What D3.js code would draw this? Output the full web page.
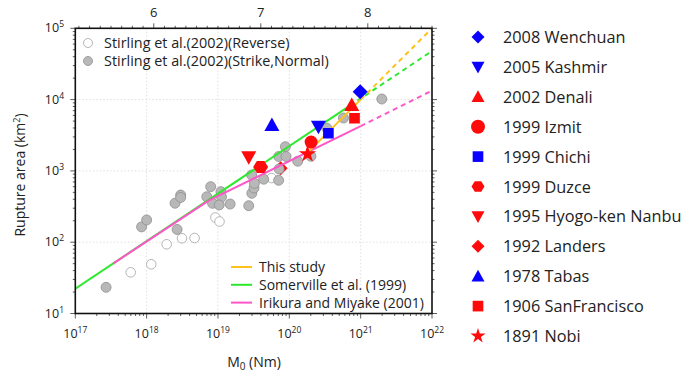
<!DOCTYPE html>
<html><head><meta charset="utf-8">
<script src="https://cdn.jsdelivr.net/npm/d3@7"></script>
<style>
body{margin:0;background:#fff}
text{font-family:"Open Sans",Lato,sans-serif;fill:#222}
</style></head><body>
<svg id="c" width="683" height="378"></svg>
<script>
// ---------- data ----------
const xTickExponents = [17, 18, 19, 20, 21, 22];
const yTickExponents = [1, 2, 3, 4, 5];
const magnitudeTicks = [6, 7, 8];

const reverseM0   = [5.98e17, 1.16e18, 1.91e18, 3.13e18, 4.7e18, 9.2e18, 1.05e19, 5.65e19];
const reverseArea = [37.8, 49, 93.5, 113.5, 114.5, 222, 195, 794];

const strikeM0   = [2.7e17, 8.5e17, 1.0e18, 2.67e18, 2.5e18, 3.0e18, 3.0e18, 6.97e18, 7.9e18, 8.4e18,
                    1.1e19, 1.12e19, 1.04e19, 1.48e19, 2.7e19, 2.96e19, 2.98e19, 3.2e19, 3.24e19, 4.37e19,
                    7.08e19, 7.2e19, 7.1e19, 8.8e19, 9.0e19, 1.31e20, 2.01e20, 3.36e20, 5.74e20, 1.98e21];
const strikeArea = [23.3, 164, 205, 151, 352, 459, 424, 434, 600, 351,
                    511, 430, 333, 343, 325, 877, 485, 575, 670, 765,
                    738, 1064, 1592, 2183, 1592, 1368, 1603, 3963, 5520, 10190];

const eventNames = ["2008 Wenchuan", "2005 Kashmir", "2002 Denali", "1999 Izmit", "1999 Chichi",
                    "1999 Duzce", "1995 Hyogo-ken Nanbu", "1992 Landers", "1978 Tabas",
                    "1906 SanFrancisco", "1891 Nobi"];
const eventM0   = [9.85e20, 2.56e20, 7.5e20, 2.02e20, 3.53e20, 3.96e19, 2.7e19, 7.55e19, 5.7e19, 8.2e20, 1.8e20];
const eventArea = [12900, 4170, 8400, 2540, 3370, 1135, 1553, 1087, 4400, 5470, 1726];

// scaling relations: solid part and dashed extrapolation
const thisStudySolidM0 = [1.82e20, 1.0e21],  thisStudySolidArea = [1820, 10000];
const thisStudyDashM0  = [1.0e21, 1.0e22],   thisStudyDashArea  = [10000, 100000];
const somervilleSolidM0 = [1e17, 7.08e20],   somervilleSolidArea = [22.3, 8220];
const somervilleDashM0  = [7.08e20, 1e22],   somervilleDashArea  = [8220, 48000];
const irikuraSolidM0 = [3.39e17, 7.5e18, 1e21], irikuraSolidArea = [50.2, 385, 4236];
const irikuraDashM0  = [1e21, 1e22],            irikuraDashArea  = [4236, 13400];

const lineLegend = ["This study", "Somerville et al. (1999)", "Irikura and Miyake (2001)"];
const pointLegend = ["Stirling et al.(2002)(Reverse)", "Stirling et al.(2002)(Strike,Normal)"];

// ---------- styles ----------
const C = {yellow:"#ffc21a", green:"#2de82d", pink:"#ff55c8", blue:"#0a00ff", red:"#ff0a0a"};
const eventStyle = {
  "2008 Wenchuan": {shape:"diamond", color:C.blue},
  "2005 Kashmir": {shape:"tridown", color:C.blue},
  "2002 Denali": {shape:"triup", color:C.red},
  "1999 Izmit": {shape:"circle", color:C.red},
  "1999 Chichi": {shape:"square", color:C.blue},
  "1999 Duzce": {shape:"hexagon", color:C.red},
  "1995 Hyogo-ken Nanbu": {shape:"tridown", color:C.red},
  "1992 Landers": {shape:"diamond", color:C.red},
  "1978 Tabas": {shape:"triup", color:C.blue},
  "1906 SanFrancisco": {shape:"square", color:C.red},
  "1891 Nobi": {shape:"star", color:C.red}
};
const lineColors = [C.yellow, C.green, C.pink];

// ---------- layout ----------
const svg = d3.select("#c");
const L = 75.3, R = 432, T = 28.3, B = 313.5;
const x = d3.scaleLog().domain([1e17, 1e22]).range([L, R]);
const y = d3.scaleLog().domain([10, 1e5]).range([B, T]);
const mw = d3.scaleLinear().domain([(17 - 9.1) * 2 / 3, (22 - 9.1) * 2 / 3]).range([L, R]);

function shapePath(shape, s) {
  const h = s / 2;
  switch (shape) {
    case "diamond": return `M0,${-h}L${h},0L0,${h}L${-h},0Z`;
    case "triup": return `M0,${-h}L${h},${h*0.8}L${-h},${h*0.8}Z`;
    case "tridown": return `M0,${h}L${h},${-h*0.8}L${-h},${-h*0.8}Z`;
    case "square": { const q = h * 0.82; return `M${-q},${-q}H${q}V${q}H${-q}Z`; }
    case "circle": return d3.symbol(d3.symbolCircle, Math.PI * h * h)();
    case "hexagon": { const p = d3.range(6).map(i => { const a = i * Math.PI / 3; return [h * Math.cos(a), h * 0.92 * Math.sin(a)]; });
      return "M" + p.map(q => q.join(",")).join("L") + "Z"; }
    case "star": return d3.symbol(d3.symbolStar, s * s * 0.42)();
  }
}

// grid
const gridG = svg.append("g").attr("stroke", "#d8d8d8").attr("stroke-width", 0.8).attr("stroke-dasharray", "1.5,2");
xTickExponents.slice(1, -1).forEach(e => gridG.append("line").attr("x1", x(10 ** e)).attr("x2", x(10 ** e)).attr("y1", T).attr("y2", B));
yTickExponents.slice(1, -1).forEach(e => gridG.append("line").attr("y1", y(10 ** e)).attr("y2", y(10 ** e)).attr("x1", L).attr("x2", R));

// ticks
const tickG = svg.append("g").attr("stroke", "#333").attr("stroke-width", 0.8);
const minorX = [], minorY = [];
for (let e = 17; e < 22; e++) for (let m = 2; m < 10; m++) minorX.push(m * 10 ** e);
for (let e = 1; e < 5; e++) for (let m = 2; m < 10; m++) minorY.push(m * 10 ** e);
xTickExponents.forEach(e => tickG.append("line").attr("x1", x(10 ** e)).attr("x2", x(10 ** e)).attr("y1", B).attr("y2", B + 5));
minorX.forEach(v => tickG.append("line").attr("x1", x(v)).attr("x2", x(v)).attr("y1", B).attr("y2", B + 2.5));
[[L, -1], [R, 1]].forEach(([xx, d]) => {
  yTickExponents.forEach(e => tickG.append("line").attr("y1", y(10 ** e)).attr("y2", y(10 ** e)).attr("x1", xx).attr("x2", xx + d * 5));
  minorY.forEach(v => tickG.append("line").attr("y1", y(v)).attr("y2", y(v)).attr("x1", xx).attr("x2", xx + d * 2.5));
});
const mwMinor = d3.range(53, 87).map(v => v / 10);
mwMinor.forEach(v => tickG.append("line").attr("x1", mw(v)).attr("x2", mw(v)).attr("y1", T).attr("y2", T - (Math.abs(v - Math.round(v)) < 1e-6 ? 5 : 2.5)));

// tick labels
xTickExponents.forEach(e => {
  const t = svg.append("text").attr("x", x(10 ** e)).attr("y", 338).attr("text-anchor", "middle").attr("font-size", 12.5);
  t.append("tspan").text("10");
  t.append("tspan").attr("dy", -5).attr("font-size", 8.5).text(e);
});
yTickExponents.forEach(e => {
  const t = svg.append("text").attr("x", 64).attr("y", y(10 ** e) + 4).attr("text-anchor", "end").attr("font-size", 12.5);
  t.append("tspan").text("10");
  t.append("tspan").attr("dy", -5).attr("font-size", 8.5).text(e);
});
magnitudeTicks.forEach(m => svg.append("text").attr("x", mw(m)).attr("y", 17).attr("text-anchor", "middle").attr("font-size", 13).text(m));

// axis titles
const xt = svg.append("text").attr("x", 254).attr("y", 367).attr("text-anchor", "middle").attr("font-size", 14);
xt.append("tspan").text("M");
xt.append("tspan").attr("dy", 3).attr("font-size", 10).text("0");
xt.append("tspan").attr("dy", -3).text(" (Nm)");
const yt = svg.append("text").attr("transform", "translate(25,175) rotate(-90)").attr("text-anchor", "middle").attr("font-size", 14);
yt.append("tspan").text("Rupture area (km");
yt.append("tspan").attr("dy", -5).attr("font-size", 9).text("2");
yt.append("tspan").attr("dy", 5).text(")");

// clip
svg.append("clipPath").attr("id", "clip").append("rect").attr("x", L).attr("y", T).attr("width", R - L).attr("height", B - T);
const plot = svg.append("g").attr("clip-path", "url(#clip)");
const line = d3.line().x(d => x(d[0])).y(d => y(d[1]));
const zip = (a, b) => a.map((v, i) => [v, b[i]]);

// Landers marker sits behind the Stirling circles
const behind = ["1992 Landers"];
function drawEvent(g, name, s) {
  const i = eventNames.indexOf(name), st = eventStyle[name];
  g.append("path").attr("d", shapePath(st.shape, s)).attr("fill", st.color)
    .attr("transform", `translate(${x(eventM0[i])},${y(eventArea[i])})`);
}
behind.forEach(n => drawEvent(plot, n, 14));

// scatter
plot.append("g").selectAll("circle").data(zip(reverseM0, reverseArea)).join("circle")
  .attr("cx", d => x(d[0])).attr("cy", d => y(d[1])).attr("r", 4.8)
  .attr("fill", "#fff").attr("stroke", "#b4b4b4").attr("stroke-width", 1);
plot.append("g").selectAll("circle").data(zip(strikeM0, strikeArea)).join("circle")
  .attr("cx", d => x(d[0])).attr("cy", d => y(d[1])).attr("r", 5)
  .attr("fill", "#b8b8b8").attr("stroke", "#8f8f8f").attr("stroke-width", 0.8);

// relations
const rel = [
  [somervilleSolidM0, somervilleSolidArea, somervilleDashM0, somervilleDashArea, C.green],
  [irikuraSolidM0, irikuraSolidArea, irikuraDashM0, irikuraDashArea, C.pink],
  [thisStudySolidM0, thisStudySolidArea, thisStudyDashM0, thisStudyDashArea, C.yellow]
];
rel.forEach(([sm, sa, dm, da, col]) => {
  plot.append("path").attr("d", line(zip(sm, sa))).attr("fill", "none").attr("stroke", col).attr("stroke-width", 2);
  plot.append("path").attr("d", line(zip(dm, da))).attr("fill", "none").attr("stroke", col).attr("stroke-width", 2).attr("stroke-dasharray", "5,4");
});

eventNames.filter(n => !behind.includes(n)).forEach(n => drawEvent(plot, n, eventStyle[n].shape === "square" ? 13 : (eventStyle[n].shape === "circle" ? 13 : 15)));

// frame
svg.append("rect").attr("x", L).attr("y", T).attr("width", R - L).attr("height", B - T)
  .attr("fill", "none").attr("stroke", "#111").attr("stroke-width", 1.6);

// point legend (top-left)
pointLegend.forEach((lab, i) => {
  const yy = 43 + i * 18;
  svg.append("circle").attr("cx", 88).attr("cy", yy).attr("r", 4.5)
    .attr("fill", i ? "#b8b8b8" : "#fff").attr("stroke", i ? "#a0a0a0" : "#b4b4b4");
  svg.append("text").attr("x", 104).attr("y", yy + 5).attr("font-size", 14.4).text(lab);
});

// line legend (bottom-right)
lineLegend.forEach((lab, i) => {
  const yy = 267 + i * 17.8;
  svg.append("line").attr("x1", 231).attr("x2", 252).attr("y1", yy).attr("y2", yy).attr("stroke", lineColors[i]).attr("stroke-width", 2);
  svg.append("text").attr("x", 259).attr("y", yy + 5).attr("font-size", 14).text(lab);
});

// event legend (right)
eventNames.forEach((n, i) => {
  const yy = 37 + i * 29.9;
  const st = eventStyle[n];
  svg.append("path").attr("d", shapePath(st.shape, st.shape === "circle" ? 14 : 13)).attr("fill", st.color)
    .attr("transform", `translate(478,${yy})`);
  svg.append("text").attr("x", 503).attr("y", yy + 6).attr("font-size", 16.3).text(n);
});
</script>
</body></html>
